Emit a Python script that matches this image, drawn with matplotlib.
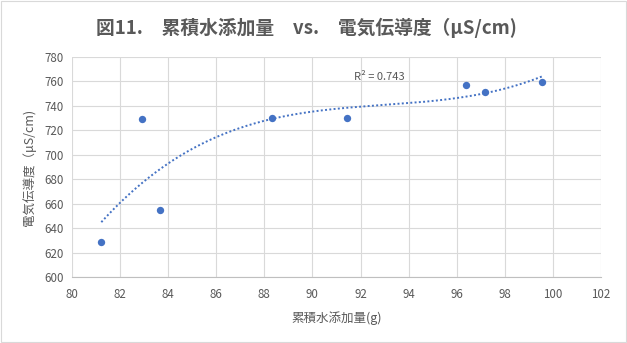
import numpy as np
import matplotlib
matplotlib.use("Agg")
import matplotlib.pyplot as plt
from matplotlib.patches import Rectangle

plt.rcParams["font.family"] = ["Noto Sans CJK JP", "DejaVu Sans"]

# cumulative water added (g) vs conductivity (uS/cm)
water_added = [81.22, 82.93, 83.68, 88.33, 91.42, 96.39, 97.18, 99.55]
conductivity = [628.5, 729.5, 654.5, 730.0, 730.0, 757.0, 751.5, 759.5]

x_ticks = list(range(80, 103, 2))
y_ticks = list(range(600, 781, 20))

TITLE = "図11.　累積水添加量　vs.　電気伝導度（μS/cm)"
X_LABEL = "累積水添加量(g)"
Y_LABEL = "電気伝導度（μS/cm)"
R2_TEXT = "R² = 0.743"

BLUE = "#4472C4"
TEXT = "#595959"
GRID = "#D9D9D9"

fig = plt.figure(figsize=(6.27, 3.43), dpi=100)
fig.patches.append(Rectangle((0.0015, 0.003), 0.997, 0.994, transform=fig.transFigure,
                             fill=False, edgecolor="#D9D9D9", lw=0.8))
ax = fig.add_axes([0.1148, 0.1924, 0.8437, 0.6414])

# 3rd order polynomial trendline (as Excel does)
coef = np.polyfit(water_added, conductivity, 3)
xs = np.linspace(min(water_added), max(water_added), 200)
ax.plot(xs, np.polyval(coef, xs), ls=(0, (1, 1.2)), color=BLUE, lw=1.4, zorder=2)
ax.scatter(water_added, conductivity, s=28, color=BLUE, zorder=3, linewidths=0)

ax.set_xlim(80, 102)
ax.set_ylim(600, 780)
ax.set_xticks(x_ticks)
ax.set_yticks(y_ticks)
ax.grid(True, color=GRID, lw=0.8)
ax.set_axisbelow(True)
for s in ax.spines.values():
    s.set_visible(False)
ax.spines["bottom"].set_visible(True)
ax.spines["bottom"].set_color("#BFBFBF")
ax.tick_params(length=0, labelsize=8.3, labelcolor=TEXT)
ax.tick_params(axis="x", pad=8)
ax.tick_params(axis="y", pad=6)

ax.set_xlabel(X_LABEL, fontsize=9, color=TEXT, labelpad=7)
ax.set_ylabel(Y_LABEL, fontsize=9, color=TEXT, labelpad=6)
ax.text(92.8, 764, R2_TEXT, fontsize=8, color=TEXT, ha="center", va="center")

fig.text(0.488, 0.92, TITLE, ha="center", va="center", fontsize=13.5,
         fontweight="bold", color=TEXT)

fig.savefig("out.png", dpi=100)
